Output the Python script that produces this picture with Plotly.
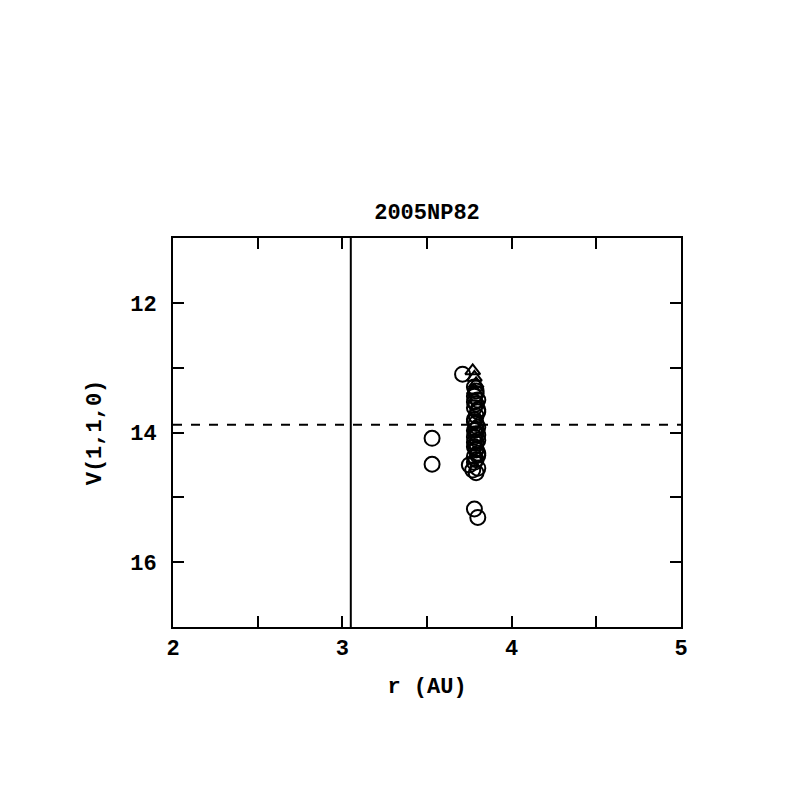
import plotly.graph_objects as go

# Observations: heliocentric distance r (AU) and reduced magnitude V(1,1,0)
circle_r = [3.71, 3.53, 3.53, 3.78, 3.80,
            3.78, 3.79, 3.78, 3.80, 3.79, 3.78, 3.80, 3.79, 3.78, 3.79,
            3.80, 3.78, 3.79, 3.78, 3.80, 3.79, 3.78, 3.79, 3.80, 3.78,
            3.79, 3.75, 3.80, 3.77, 3.79,
            3.79, 3.78, 3.80, 3.78, 3.79, 3.80, 3.78, 3.79, 3.80, 3.78]
circle_v = [13.10, 14.09, 14.49, 15.18, 15.31,
            13.30, 13.36, 13.44, 13.50, 13.56, 13.62, 13.68, 13.74, 13.80, 13.86,
            13.92, 13.97, 14.02, 14.07, 14.12, 14.17, 14.22, 14.27, 14.32, 14.37,
            14.42, 14.50, 14.55, 14.58, 14.62,
            13.40, 13.53, 13.65, 13.83, 13.95, 14.04, 14.15, 14.25, 14.35, 14.46]
tri_r = [3.77, 3.78, 3.79, 3.78]
tri_v = [13.05, 13.15, 13.25, 13.35]

vline_r = 3.05      # solid vertical reference
hline_v = 13.88     # dashed horizontal reference

x_ticks = [2, 2.5, 3, 3.5, 4, 4.5, 5]
x_labels = ["2", "", "3", "", "4", "", "5"]
y_ticks = [11, 12, 13, 14, 15, 16, 17]
y_labels = ["", "12", "", "14", "", "16", ""]

FONT = "Liberation Mono"

fig = go.Figure()
fig.add_trace(go.Scatter(
    x=circle_r, y=circle_v, mode="markers",
    marker=dict(symbol="circle-open", size=15, color="black", line=dict(width=2)),
    showlegend=False))
fig.add_trace(go.Scatter(
    x=tri_r, y=tri_v, mode="markers",
    marker=dict(symbol="triangle-up-open", size=13, color="black", line=dict(width=2)),
    showlegend=False))

fig.add_shape(type="line", xref="x", yref="paper", x0=vline_r, x1=vline_r, y0=0, y1=1,
              line=dict(color="black", width=2))
fig.add_shape(type="line", xref="paper", yref="y", x0=0, x1=1, y0=hline_v, y1=hline_v,
              line=dict(color="black", width=2, dash="dash"))

tick_font = dict(family=FONT, size=22, color="black", weight="bold")
title_font = dict(family=FONT, size=22, color="black", weight="bold")

axis_common = dict(showline=True, linecolor="black", linewidth=2, mirror="ticks",
                   ticks="inside", ticklen=11, tickwidth=2, tickcolor="black",
                   showgrid=False, zeroline=False, tickfont=tick_font)

fig.update_xaxes(range=[2, 5], tickmode="array", tickvals=x_ticks, ticktext=x_labels,
                 ticklabelstandoff=0,
                 title=dict(text="r (AU)", font=title_font, standoff=16),
                 **axis_common)
fig.update_yaxes(range=[17, 11], tickmode="array", tickvals=y_ticks, ticktext=y_labels,
                 ticklabelstandoff=10,
                 title=dict(text="V(1,1,0)", font=title_font, standoff=22),
                 **axis_common)

fig.update_layout(
    width=797, height=797,
    margin=dict(l=165, r=124, t=230, b=178, autoexpand=False),
    paper_bgcolor="white", plot_bgcolor="white",
    title=dict(text="2005NP82", x=0.5, xanchor="center", xref="paper",
               y=1 - 203 / 797, yanchor="middle", font=title_font),
)

fig.write_html("out.html")
